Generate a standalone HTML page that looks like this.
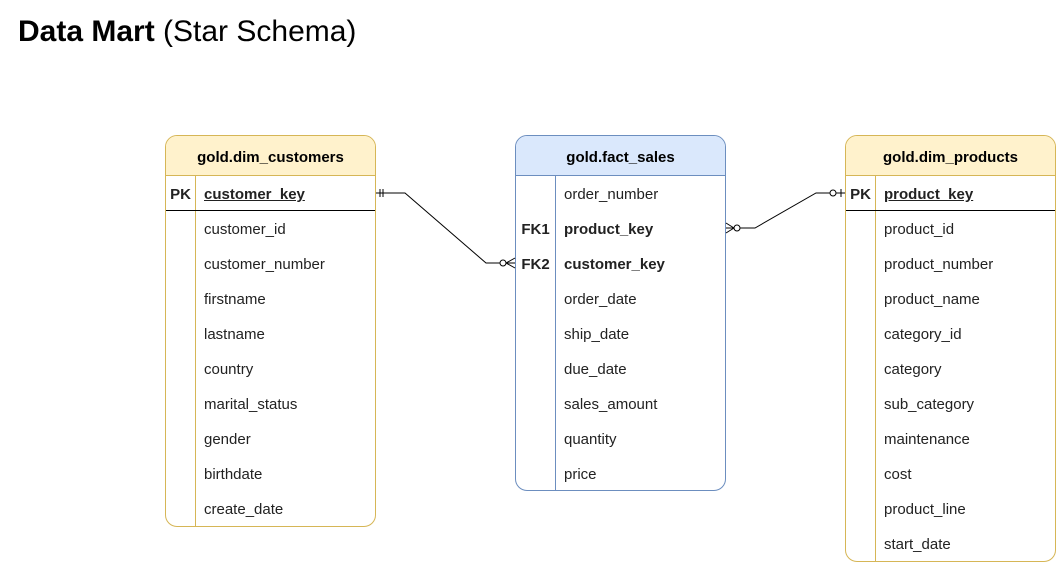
<!DOCTYPE html>
<html><head><style>
body{margin:0;width:1061px;height:566px;background:#fff;position:relative;font-family:"Liberation Sans",sans-serif;overflow:hidden}
.t{position:absolute;box-sizing:border-box;border:1px solid;border-radius:12px;overflow:hidden;background:#fff}
.h{height:40px;line-height:43px;text-align:center;font-weight:bold;font-size:15px;box-sizing:border-box;border-bottom:1px solid}
.r{height:35px;line-height:38px;font-size:15px;position:relative;color:#222}
.r .k{position:absolute;left:0;top:0;text-align:center;font-weight:bold}
.r .n{position:absolute;top:0}
.vl{position:absolute;top:40px;bottom:0;width:1px}
</style></head><body>
<div style="position:absolute;left:18px;top:15px;font-size:30px"><b>Data Mart</b> (Star Schema)</div>

<div class="t" style="left:165px;top:135px;width:211px;height:392px;border-color:#d6b656">
<div class="h" style="background:#fff2cc;border-color:#d6b656">gold.dim_customers</div>
<div class="vl" style="left:29px;background:#d6b656"></div>
<div class="r" style="border-bottom:1px solid #000;height:34px"><span class="k" style="width:29px">PK</span><span class="n" style="left:38px;font-weight:bold;text-decoration:underline">customer_key</span></div>
<div class="r"><span class="n" style="left:38px">customer_id</span></div>
<div class="r"><span class="n" style="left:38px">customer_number</span></div>
<div class="r"><span class="n" style="left:38px">firstname</span></div>
<div class="r"><span class="n" style="left:38px">lastname</span></div>
<div class="r"><span class="n" style="left:38px">country</span></div>
<div class="r"><span class="n" style="left:38px">marital_status</span></div>
<div class="r"><span class="n" style="left:38px">gender</span></div>
<div class="r"><span class="n" style="left:38px">birthdate</span></div>
<div class="r"><span class="n" style="left:38px">create_date</span></div>
</div>

<div class="t" style="left:515px;top:135px;width:211px;height:356px;border-color:#6c8ebf">
<div class="h" style="background:#dae8fc;border-color:#6c8ebf">gold.fact_sales</div>
<div class="vl" style="left:39px;background:#6c8ebf"></div>
<div class="r"><span class="n" style="left:48px">order_number</span></div>
<div class="r"><span class="k" style="width:39px">FK1</span><span class="n" style="left:48px;font-weight:bold">product_key</span></div>
<div class="r"><span class="k" style="width:39px">FK2</span><span class="n" style="left:48px;font-weight:bold">customer_key</span></div>
<div class="r"><span class="n" style="left:48px">order_date</span></div>
<div class="r"><span class="n" style="left:48px">ship_date</span></div>
<div class="r"><span class="n" style="left:48px">due_date</span></div>
<div class="r"><span class="n" style="left:48px">sales_amount</span></div>
<div class="r"><span class="n" style="left:48px">quantity</span></div>
<div class="r"><span class="n" style="left:48px">price</span></div>
</div>

<div class="t" style="left:845px;top:135px;width:211px;height:427px;border-color:#d6b656">
<div class="h" style="background:#fff2cc;border-color:#d6b656">gold.dim_products</div>
<div class="vl" style="left:29px;background:#d6b656"></div>
<div class="r" style="border-bottom:1px solid #000;height:34px"><span class="k" style="width:29px">PK</span><span class="n" style="left:38px;font-weight:bold;text-decoration:underline">product_key</span></div>
<div class="r"><span class="n" style="left:38px">product_id</span></div>
<div class="r"><span class="n" style="left:38px">product_number</span></div>
<div class="r"><span class="n" style="left:38px">product_name</span></div>
<div class="r"><span class="n" style="left:38px">category_id</span></div>
<div class="r"><span class="n" style="left:38px">category</span></div>
<div class="r"><span class="n" style="left:38px">sub_category</span></div>
<div class="r"><span class="n" style="left:38px">maintenance</span></div>
<div class="r"><span class="n" style="left:38px">cost</span></div>
<div class="r"><span class="n" style="left:38px">product_line</span></div>
<div class="r"><span class="n" style="left:38px">start_date</span></div>
</div>

<svg width="1061" height="566" style="position:absolute;left:0;top:0" fill="none" stroke="#000" stroke-width="1">
<polyline points="376,193 405,193 486,263 515,263"/>
<line x1="380" y1="189" x2="380" y2="197"/><line x1="383" y1="189" x2="383" y2="197"/>
<circle cx="503" cy="263" r="3" fill="#fff"/>
<line x1="506" y1="263" x2="515" y2="258"/><line x1="506" y1="263" x2="515" y2="268"/>
<polyline points="726,228 755,228 816,193 845,193"/>
<circle cx="737" cy="228" r="3" fill="#fff"/>
<line x1="734" y1="228" x2="726" y2="223"/><line x1="734" y1="228" x2="726" y2="233"/>
<circle cx="833" cy="193" r="3" fill="#fff"/>
<line x1="841" y1="189" x2="841" y2="197"/>
</svg>
</body></html>
